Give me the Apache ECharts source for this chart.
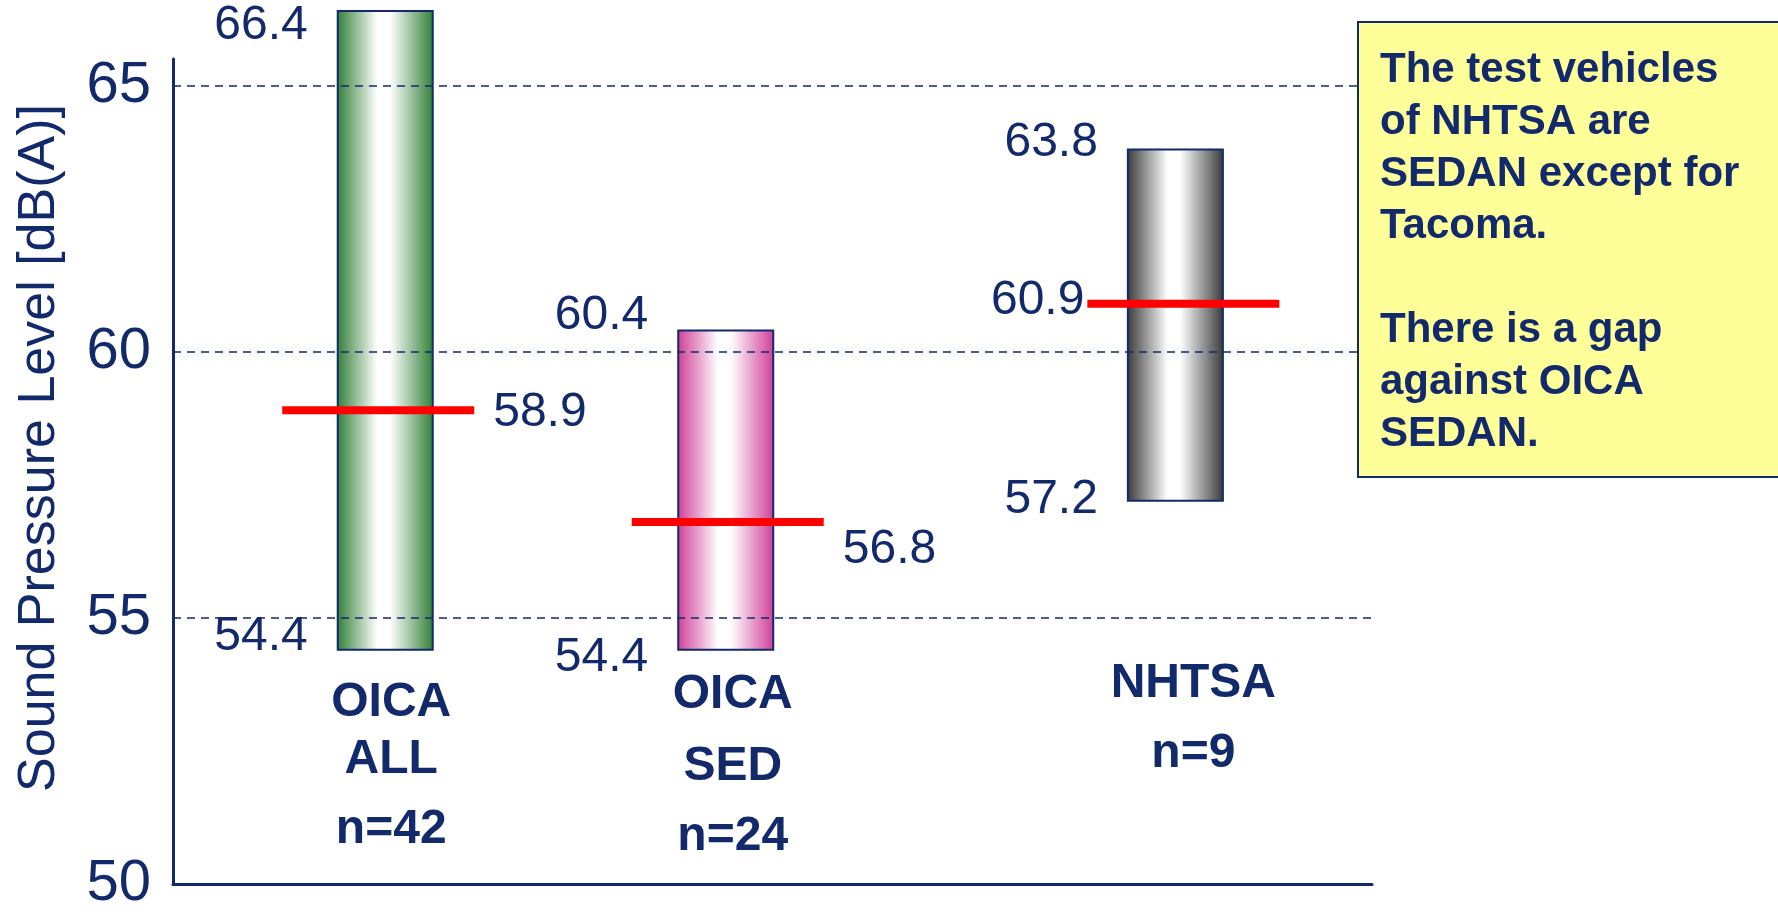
<!DOCTYPE html>
<html>
<head>
<meta charset="utf-8">
<title>Sound Pressure Level</title>
<script src="https://cdn.jsdelivr.net/npm/echarts@6/dist/echarts.min.js"></script>
<style>
  html, body { margin: 0; padding: 0; background: #fff; }
  #chart { width: 1778px; height: 914px; }
</style>
</head>
<body>
<div id="chart"></div>
<script>
// 数据
const groupLines = [['OICA', 'ALL', 'n=42'], ['OICA', 'SED', 'n=24'], ['NHTSA', 'n=9']]
const minValues = [54.4, 54.4, 57.2]
const maxValues = [66.4, 60.4, 63.8]
const medianValues = [58.9, 56.8, 60.9]
const yTicks = [50, 55, 60, 65]
const gridValues = [55, 60, 65]
const noteLines = ['The test vehicles', 'of NHTSA are', 'SEDAN except for', 'Tacoma.', '', 'There is a gap', 'against OICA', 'SEDAN.']
const yName = 'Sound Pressure Level [dB(A)]'

// 版面与样式
const NAVY = '#122a6c'
const FONT = '"Liberation Sans", Arial, sans-serif'
const barX = [17.7, 46.1, 83.6]
const barColors = ['#2f7f35', '#cf3d97', '#383838']
const BAR_W = 95
const medShift = [-7, 2, 8]
const medSide = ['right', 'right', 'left']
const topDy = [15, -15, -7]
const botDy = [-13, 8, -1]
const medDy = [2, 28, -3]
const labelShift = [6, 7, 18]
const labelRise = [[181, 124, 54], [189, 117, 47], [200, 130]]

const chart = echarts.init(document.getElementById('chart'))

// 绘制每个区间条
function renderBox(params, api) {
  const i = params.dataIndex
  const x = api.value(0)
  const top = api.coord([x, api.value(2)])
  const bottom = api.coord([x, api.value(1)])
  const mid = api.coord([x, api.value(3)])
  const base = api.coord([x, 50])
  const cx = top[0]
  const left = cx - BAR_W / 2
  const color = barColors[i]
  const valueFont = '48px ' + FONT
  const mx = cx + medShift[i]
  const children = [
    {
      type: 'rect',
      shape: { x: left, y: top[1], width: BAR_W, height: bottom[1] - top[1] },
      style: {
        fill: new echarts.graphic.LinearGradient(0, 0, 1, 0, [
          { offset: 0, color: color },
          { offset: 0.42, color: '#ffffff' },
          { offset: 0.55, color: '#ffffff' },
          { offset: 1, color: color }
        ]),
        stroke: NAVY,
        lineWidth: 2
      }
    },
    {
      type: 'line',
      shape: { x1: mx - 96, y1: mid[1], x2: mx + 96, y2: mid[1] },
      style: { stroke: '#ff0000', lineWidth: 8 }
    },
    {
      type: 'text',
      style: { text: api.value(2).toFixed(1), x: left - 30, y: top[1] + topDy[i], align: 'right', verticalAlign: 'middle', font: valueFont, fill: NAVY }
    },
    {
      type: 'text',
      style: { text: api.value(1).toFixed(1), x: left - 30, y: bottom[1] + botDy[i], align: 'right', verticalAlign: 'middle', font: valueFont, fill: NAVY }
    },
    {
      type: 'text',
      style: {
        text: api.value(3).toFixed(1),
        x: medSide[i] === 'right' ? mx + 96 + 19 : mx - 96 - 3,
        y: mid[1] + medDy[i],
        align: medSide[i] === 'right' ? 'left' : 'right',
        verticalAlign: 'middle',
        font: valueFont,
        fill: NAVY
      }
    }
  ]
  // 分类标签
  groupLines[i].forEach((t, k) => {
    children.push({
      type: 'text',
      style: { text: t, x: cx + labelShift[i], y: base[1] - labelRise[i][k], align: 'center', verticalAlign: 'middle', font: 'bold 48px ' + FONT, fill: NAVY }
    })
  })
  return { type: 'group', children }
}

const option = {
  backgroundColor: '#ffffff',
  animation: false,
  grid: { left: 173, top: 59, right: 406, bottom: 30 },
  xAxis: {
    type: 'value',
    min: 0,
    max: 100,
    axisLine: { show: true, onZero: false, lineStyle: { color: NAVY, width: 3 } },
    axisTick: { show: false },
    axisLabel: { show: false },
    splitLine: { show: false }
  },
  yAxis: {
    type: 'value',
    min: 50,
    max: 65.5,
    interval: 5,
    axisLine: { show: true, lineStyle: { color: NAVY, width: 3 } },
    axisTick: { show: false },
    splitLine: { show: false },
    axisLabel: {
      showMaxLabel: false,
      margin: 22,
      color: NAVY,
      fontSize: 58,
      fontFamily: FONT,
      formatter: v => yTicks.includes(v) ? String(v) : ''
    }
  },
  series: [
    {
      type: 'custom',
      clip: false,
      renderItem: renderBox,
      data: barX.map((x, i) => [x, minValues[i], maxValues[i], medianValues[i]]),
      markLine: {
        silent: true,
        symbol: 'none',
        label: { show: false },
        lineStyle: { color: NAVY, type: [8, 6], width: 1.5 },
        data: gridValues.map(v => ({ yAxis: v }))
      },
      z: 2
    }
  ],
  graphic: [
    {
      type: 'text',
      x: 40,
      y: 448,
      rotation: Math.PI / 2,
      style: { text: yName, align: 'center', verticalAlign: 'middle', font: '52px ' + FONT, fill: NAVY }
    },
    {
      type: 'rect',
      shape: { x: 1358, y: 22, width: 440, height: 455 },
      style: { fill: '#ffff99', stroke: NAVY, lineWidth: 2 },
      z: 10
    },
    {
      type: 'text',
      x: 1380,
      y: 44,
      style: { text: noteLines.join('\n'), font: 'bold 42px ' + FONT, lineHeight: 52, fill: NAVY },
      z: 11
    }
  ]
}

chart.setOption(option)
</script>
</body>
</html>
